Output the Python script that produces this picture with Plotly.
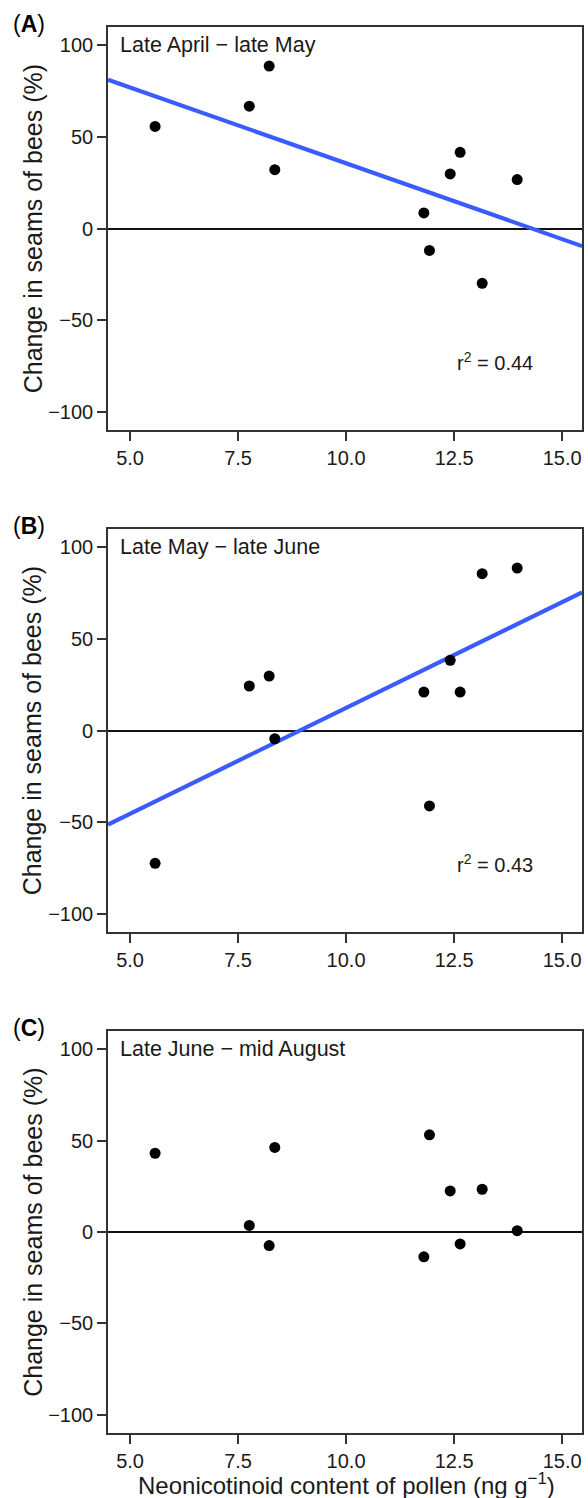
import numpy as np
import plotly.graph_objects as go
from plotly.subplots import make_subplots

# ---- data ----
pollen_ng_g = [5.58, 7.76, 8.22, 8.35, 11.80, 11.93, 12.41, 12.64, 13.15, 13.96]
change_apr_may = [55.7, 66.8, 88.7, 32.1, 8.5, -12.0, 29.8, 41.6, -29.9, 26.7]
change_may_jun = [-72.5, 24.3, 29.7, -4.5, 21.0, -41.2, 38.3, 21.0, 85.6, 88.7]
change_jun_aug = [43.1, 3.6, -7.4, 46.3, -13.6, 53.2, 22.5, -6.5, 23.4, 0.7]

panel_letters = ["A", "B", "C"]
period_labels = ["Late April \u2212 late May", "Late May \u2212 late June", "Late June \u2212 mid August"]
r2_labels = ["0.44", "0.43", None]
show_fit = [True, True, False]

x_tickvals = [5.0, 7.5, 10.0, 12.5, 15.0]
x_ticktext = ["5.0", "7.5", "10.0", "12.5", "15.0"]
y_tickvals = [-100, -50, 0, 50, 100]
y_ticktext = ["\u2212100", "\u221250", "0", "50", "100"]

x_range = [4.49, 15.46]
y_range = [-110, 110]

series = [change_apr_may, change_may_jun, change_jun_aug]

FONT = "Liberation Sans, Arial, sans-serif"
TXT = "#1a1a1a"
AX = "#333333"
BLUE = "#3A5CFF"

W, H = 588, 1498
ML, MR, MT, MB = 108, 4, 27, 65
plot_h = H - MT - MB
plot_w = W - ML - MR

# panel pixel extents (top, bottom)
panel_px = [(27, 430), (529, 932), (1031, 1433)]


def py(p):
    return (H - MB - p) / plot_h


def px(p):
    return (p - ML) / plot_w


fig = make_subplots(rows=3, cols=1)

for i, ys in enumerate(series):
    r = i + 1
    xa = "x" if i == 0 else f"x{r}"
    ya = "y" if i == 0 else f"y{r}"
    if show_fit[i]:
        slope, intercept = np.polyfit(pollen_ng_g, ys, 1)
        xl = np.array(x_range)
        fig.add_trace(go.Scatter(x=xl, y=slope * xl + intercept, mode="lines",
                                 line=dict(color=BLUE, width=4.2),
                                 hoverinfo="skip", showlegend=False), row=r, col=1)
    fig.add_trace(go.Scatter(x=pollen_ng_g, y=ys, mode="markers",
                             marker=dict(color="black", size=11),
                             showlegend=False), row=r, col=1)

    top, bot = panel_px[i]
    fig.update_yaxes(domain=[py(bot), py(top)], row=r, col=1)

    # period label inside panel
    fig.add_annotation(x=4.73, y=100, xref=xa, yref=ya, text=period_labels[i],
                       showarrow=False, xanchor="left", yanchor="middle",
                       font=dict(family=FONT, size=21.5, color=TXT))
    # r^2
    if r2_labels[i]:
        fig.add_annotation(x=13.45, y=-72.5, xref=xa, yref=ya,
                           text=f"r<sup>2</sup> = {r2_labels[i]}",
                           showarrow=False, xanchor="center", yanchor="middle",
                           font=dict(family=FONT, size=20, color=TXT))
    # panel letter
    fig.add_annotation(x=px(11), y=py(top - 3), xref="paper", yref="paper",
                       text=f"(<b>{panel_letters[i]}</b>)", showarrow=False,
                       xanchor="left", yanchor="middle",
                       font=dict(family=FONT, size=23, color="black"))
    # y title
    fig.add_annotation(x=px(32.5), y=py((top + bot) / 2), xref="paper", yref="paper",
                       text="Change in seams of bees (%)", textangle=-90,
                       showarrow=False, xanchor="center", yanchor="middle",
                       font=dict(family=FONT, size=25, color=TXT))

# x title
fig.add_annotation(x=px(348), y=py(1484), xref="paper", yref="paper",
                   text="Neonicotinoid content of pollen (ng g<sup>\u22121</sup>)",
                   showarrow=False, xanchor="center", yanchor="middle",
                   font=dict(family=FONT, size=24, color=TXT))

axis_common = dict(showline=True, mirror=True, linecolor=AX, linewidth=1.6,
                   ticks="outside", ticklen=9, tickwidth=1.5, tickcolor=AX,
                   showgrid=False, tickfont=dict(family=FONT, size=20, color=TXT))

fig.update_xaxes(range=x_range, tickvals=x_tickvals, ticktext=x_ticktext,
                 zeroline=False, **axis_common)
fig.update_yaxes(range=y_range, tickvals=y_tickvals, ticktext=y_ticktext,
                 zeroline=True, zerolinecolor="#111111", zerolinewidth=1.5,
                 **axis_common)

fig.update_layout(width=W, height=H, margin=dict(l=ML, r=MR, t=MT, b=MB),
                  plot_bgcolor="white", paper_bgcolor="white",
                  showlegend=False, font=dict(family=FONT, color=TXT))

fig.write_html("out.html", config={"displayModeBar": False},
               post_script="document.body.style.margin='0';document.body.style.padding='0';"
                           "document.documentElement.style.overflow='hidden';")
